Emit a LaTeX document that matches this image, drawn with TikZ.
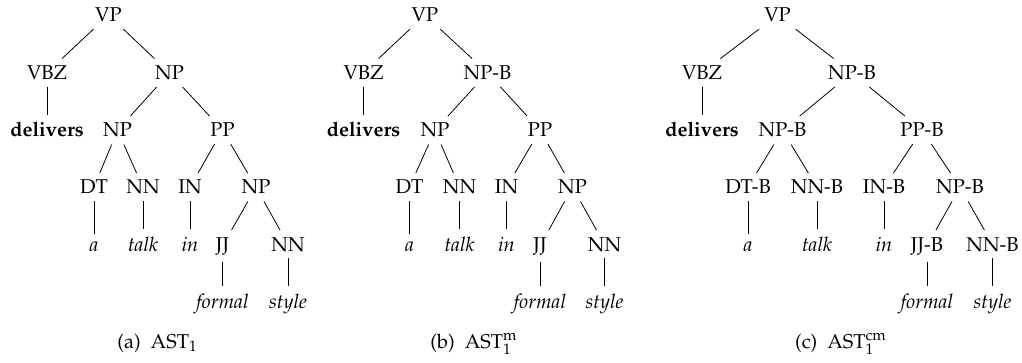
\documentclass[tikz,border=0pt]{standalone}
\usepackage[T1]{fontenc}
\usepackage{mathpazo}
\begin{document}
\begin{tikzpicture}[x=0.5pt,y=-0.5pt,
  tn/.style={anchor=base,inner sep=0.3333em,font=\fontsize{10}{12}\selectfont},
  lf/.style={tn,font=\fontsize{10}{12}\selectfont\itshape},
  captext/.style={anchor=base,inner sep=0pt,font=\fontsize{10}{12}\selectfont},
  treeedge/.style={draw,line width=0.4pt}]
\useasboundingbox (0,0) rectangle (1022,363);
% ---------- (a)
\node[tn] (aVP) at (108.5,22) {VP};
\node[tn] (aVBZ) at (47,79.5) {VBZ};
\node[tn] (aNP) at (169.5,79.5) {NP};
\node[tn] (adel) at (47,137) {\textbf{delivers}};
\node[tn] (aNP2) at (117.5,137) {NP};
\node[tn] (aPP) at (222.5,137) {PP};
\node[tn] (aDT) at (94,194) {DT};
\node[tn] (aNN) at (143,194) {NN};
\node[tn] (aIN) at (190,194) {IN};
\node[tn] (aNP3) at (256,194) {NP};
\node[lf] (aa) at (94,251) {a};
\node[lf] (atalk) at (143,251) {talk};
\node[lf] (ain) at (190,251) {in};
\node[tn] (aJJ) at (222.5,251) {JJ};
\node[tn] (aNN2) at (288,251) {NN};
\node[lf] (aformal) at (222.5,308) {formal};
\node[lf] (astyle) at (288,308) {style};
\node[captext] (acap) at (157.5,348) {(a)\ \ AST$_1$};
\foreach \p/\c in {aVP/aVBZ,aVP/aNP,aVBZ/adel,aNP/aNP2,aNP/aPP,aNP2/aDT,aNP2/aNN,aPP/aIN,aPP/aNP3,aDT/aa,aNN/atalk,aIN/ain,aNP3/aJJ,aNP3/aNN2,aJJ/aformal,aNN2/astyle}
  \draw[treeedge] (\p) -- (\c);
% ---------- (b)
\node[tn] (bVP) at (425,22) {VP};
\node[tn] (bVBZ) at (363.5,79.5) {VBZ};
\node[tn] (bNP) at (487.5,79.5) {NP-B};
\node[tn] (bdel) at (363.5,137) {\textbf{delivers}};
\node[tn] (bNP2) at (435,137) {NP};
\node[tn] (bPP) at (540,137) {PP};
\node[tn] (bDT) at (409.5,194) {DT};
\node[tn] (bNN) at (459.5,194) {NN};
\node[tn] (bIN) at (506.5,194) {IN};
\node[tn] (bNP3) at (572.5,194) {NP};
\node[lf] (ba) at (409.5,251) {a};
\node[lf] (btalk) at (459.5,251) {talk};
\node[lf] (bin) at (506.5,251) {in};
\node[tn] (bJJ) at (540,251) {JJ};
\node[tn] (bNN2) at (604.5,251) {NN};
\node[lf] (bformal) at (540,308) {formal};
\node[lf] (bstyle) at (604.5,308) {style};
\node[captext] (bcap) at (474,348) {(b)\ \ AST$_1^{\mathrm{m}}$};
\foreach \p/\c in {bVP/bVBZ,bVP/bNP,bVBZ/bdel,bNP/bNP2,bNP/bPP,bNP2/bDT,bNP2/bNN,bPP/bIN,bPP/bNP3,bDT/ba,bNN/btalk,bIN/bin,bNP3/bJJ,bNP3/bNN2,bJJ/bformal,bNN2/bstyle}
  \draw[treeedge] (\p) -- (\c);
% ---------- (c)
\node[tn] (cVP) at (777.5,22) {VP};
\node[tn] (cVBZ) at (702,79.5) {VBZ};
\node[tn] (cNP) at (852,79.5) {NP-B};
\node[tn] (cdel) at (702,137) {\textbf{delivers}};
\node[tn] (cNP2) at (782.5,137) {NP-B};
\node[tn] (cPP) at (922,137) {PP-B};
\node[tn] (cDT) at (748,194) {DT-B};
\node[tn] (cNN) at (817,194) {NN-B};
\node[tn] (cIN) at (884,194) {IN-B};
\node[tn] (cNP3) at (960,194) {NP-B};
\node[lf] (ca) at (748,251) {a};
\node[lf] (ctalk) at (817,251) {talk};
\node[lf] (cin) at (884,251) {in};
\node[tn] (cJJ) at (927,251) {JJ-B};
\node[tn] (cNN2) at (992.5,251) {NN-B};
\node[lf] (cformal) at (927,308) {formal};
\node[lf] (cstyle) at (992.5,308) {style};
\node[captext] (ccap) at (841,348) {(c)\ \ AST$_1^{\mathrm{cm}}$};
\foreach \p/\c in {cVP/cVBZ,cVP/cNP,cVBZ/cdel,cNP/cNP2,cNP/cPP,cNP2/cDT,cNP2/cNN,cPP/cIN,cPP/cNP3,cDT/ca,cNN/ctalk,cIN/cin,cNP3/cJJ,cNP3/cNN2,cJJ/cformal,cNN2/cstyle}
  \draw[treeedge] (\p) -- (\c);
\end{tikzpicture}
\end{document}
